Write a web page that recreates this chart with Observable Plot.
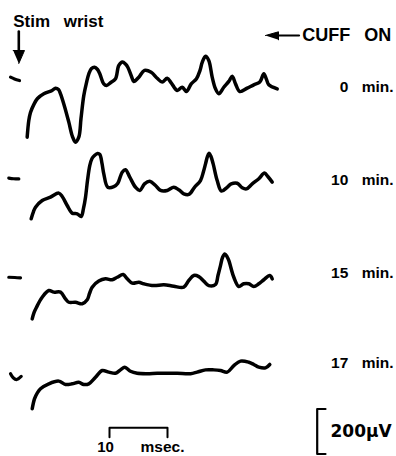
<!DOCTYPE html>
<html><head><meta charset="utf-8">
<script src="https://cdn.jsdelivr.net/npm/d3@7"></script>
<script src="https://cdn.jsdelivr.net/npm/@observablehq/plot@0.6"></script>
<style>html,body{margin:0;padding:0;background:#fff;}</style>
</head><body><div id="chart"></div>
<script>
// ---- data (time in ms after stimulus, amplitude in µV relative to each trace's baseline)
const traceLabels = ["0 min.", "10 min.", "15 min.", "17 min."];
const trace0min = [[2.53,-261],[2.81,-187],[3.10,-151],[3.67,-116],[4.31,-89],[5.40,-68],[6.84,-53],[7.41,-43],[7.93,-49],[8.28,-68],[8.97,-124],[9.71,-194],[10.34,-258],[10.86,-283],[11.43,-261],[11.81,-178],[12.29,-76],[12.76,-18],[13.16,21],[13.62,44],[14.14,50],[14.66,40],[15.05,21],[15.74,-24],[16.21,-31],[16.90,-19],[17.76,-1],[18.33,58],[18.97,73],[19.48,64],[19.88,50],[20.52,9],[20.91,-13],[21.78,6],[22.76,36],[23.91,28],[24.95,1],[25.81,-16],[26.67,1],[27.36,-19],[28.40,-53],[29.26,-39],[30.00,-58],[30.81,-24],[31.72,-1],[32.33,36],[32.71,72],[33.28,99],[33.84,80],[34.43,6],[35.00,-46],[35.57,-68],[36.43,-39],[37.29,-13],[37.88,10],[38.45,-24],[39.19,-58],[40.47,-43],[41.60,-28],[42.64,-16],[43.33,21],[43.79,-4],[44.19,-28],[45.64,-46]];
const trace10min = [[3.22,-179],[3.62,-147],[3.97,-128],[5.12,-98],[6.55,-83],[7.98,-65],[8.57,-80],[9.43,-120],[10.29,-154],[11.16,-157],[11.84,-169],[12.24,-133],[12.59,-83],[12.93,-9],[13.33,58],[13.71,89],[14.14,102],[14.66,111],[15.05,107],[15.43,67],[15.74,21],[16.43,-39],[17.47,-36],[18.16,-21],[18.91,28],[19.48,39],[20.22,6],[21.21,-39],[21.95,-53],[22.76,-24],[23.67,-12],[24.66,-31],[25.52,-53],[26.67,-53],[27.81,-39],[28.67,-50],[29.53,-68],[30.40,-71],[31.38,-39],[32.41,-9],[32.93,31],[33.28,65],[33.62,98],[33.91,112],[34.22,98],[34.60,65],[35.29,-9],[36.03,-56],[37.02,-39],[37.71,-24],[38.74,-21],[39.60,-41],[40.34,-46],[41.33,-24],[42.47,-1],[43.45,24],[44.02,9],[44.78,-16]];
const trace15min = [[3.40,-184],[3.71,-156],[4.14,-132],[5.12,-88],[6.26,-58],[7.12,-65],[8.28,-65],[9.14,-95],[9.71,-110],[10.86,-110],[12.02,-117],[12.88,-99],[13.28,-71],[13.74,-43],[14.88,-16],[16.03,-6],[17.19,-10],[18.05,1],[19.09,13],[19.78,-6],[20.64,-25],[21.78,-21],[22.64,-28],[24.36,-36],[26.09,-32],[27.81,-39],[29.53,-43],[30.40,-13],[31.26,9],[32.12,4],[32.98,-16],[33.84,-36],[35.00,-31],[35.43,9],[35.86,53],[36.21,89],[36.60,105],[36.98,93],[37.29,76],[38.16,1],[39.02,-40],[39.88,-28],[40.74,-28],[41.60,-40],[42.47,-28],[43.33,-10],[44.36,9],[44.78,-6]];
const trace17min = [[3.40,-148],[3.79,-104],[4.31,-76],[4.83,-59],[6.26,-37],[7.98,-25],[9.14,-40],[10.29,-37],[11.43,-30],[12.29,-40],[13.16,-37],[14.31,-8],[15.47,22],[16.60,15],[17.76,10],[18.62,25],[19.36,37],[20.34,19],[21.50,10],[23.22,8],[24.95,10],[26.67,10],[28.40,10],[30.69,8],[31.84,15],[33.28,25],[34.71,25],[35.86,22],[37.02,15],[38.16,44],[39.31,64],[40.74,59],[41.60,49],[42.47,37],[43.62,34],[44.36,49]];
const stimArtifacts = [
  [[-0.34,6],[0.34,-2],[1.21,-9]],
  [[-0.64,2],[0.2,-1],[1.09,-2]],
  [[-0.64,1],[0.4,0],[1.38,-2]],
  [[-0.34,8],[0.12,-10],[0.69,-18],[1.5,-4]]
];
const scaleTimeMs = 10;
const scaleVoltUv = 200;
const stimLabel = "Stim wrist";
const cuffLabel = "CUFF ON";

// ---- layout
const W = 396, H = 456;
const PX_PER_MS = 5.8, UV_PER_PX = 200 / 45;
const ms = px => (px - 12) / PX_PER_MS;   // horizontal page position -> ms
const uv = py => -py * UV_PER_PX;          // vertical page position -> µV
const rowBase = [78, 178, 277, 375];
const labelY = [86.7, 179.2, 272.5, 362.5];

const traces = [trace0min, trace10min, trace15min, trace17min];
const rows = traces.flatMap((tr, i) => tr.map(([t, v]) => ({row: i, t, y: uv(rowBase[i]) + v})));
const stimRows = stimArtifacts.flatMap((tr, i) => tr.map(([t, v]) => ({row: i, t, y: uv(rowBase[i]) + v})));

const tb0 = ms(109), tbY = uv(427.3), tick = 9.4 * UV_PER_PX;
const vbX = ms(316.7), vbTop = uv(408.5), vtick = ms(325);
const timeBar = [[tb0, tbY - tick], [tb0, tbY], [tb0 + scaleTimeMs, tbY], [tb0 + scaleTimeMs, tbY - tick]];
const voltBar = [[vtick, vbTop], [vbX, vbTop], [vbX, vbTop - scaleVoltUv], [vtick, vbTop - scaleVoltUv]];

const font = {fontFamily: "Liberation Sans, Arial, sans-serif", fontWeight: "bold", fill: "black"};

const chart = Plot.plot({
  width: W, height: H, margin: 0,
  style: "background:#fff; word-spacing:9px;",
  x: {domain: [ms(0), ms(W)], range: [0, W], axis: null},
  y: {domain: [uv(H), uv(0)], range: [H, 0], axis: null},
  marks: [
    Plot.line(rows, {x: "t", y: "y", z: "row", curve: "catmull-rom", stroke: "black", strokeWidth: 3.5, strokeLinecap: "round", strokeLinejoin: "round"}),
    Plot.line(stimRows, {x: "t", y: "y", z: "row", curve: "catmull-rom", stroke: "black", strokeWidth: 3.2, strokeLinecap: "round"}),
    Plot.text(traceLabels, {x: ms(393), y: (d, i) => uv(labelY[i]), text: d => d, textAnchor: "end", fontSize: 15.5, ...font}),
    // stimulus annotation
    Plot.text([stimLabel], {x: ms(12.7), y: uv(20.8), text: d => d, textAnchor: "start", fontSize: 17, ...font}),
    Plot.line([[ms(18.3), uv(31)], [ms(18.3), uv(52)]], {stroke: "black", strokeWidth: 2.6}),
    Plot.line([[ms(12.7), uv(50)], [ms(24), uv(50)], [ms(18.3), uv(63)]], {fill: "black", stroke: "black", strokeWidth: 1}),
    // cuff annotation
    Plot.line([[ms(276), uv(35)], [ms(298.5), uv(35)]], {stroke: "black", strokeWidth: 2.2}),
    Plot.line([[ms(265), uv(35)], [ms(278), uv(31.3)], [ms(278), uv(39.3)]], {fill: "black", stroke: "black", strokeWidth: 1}),
    Plot.text([cuffLabel], {x: ms(301.7), y: uv(35), text: d => d, textAnchor: "start", fontSize: 18, ...font}),
    // time calibration
    Plot.line(timeBar, {stroke: "black", strokeWidth: 2}),
    Plot.text([String(scaleTimeMs)], {x: ms(105), y: uv(447), text: d => d, textAnchor: "middle", fontSize: 15, ...font}),
    Plot.text(["msec."], {x: ms(140), y: uv(447), text: d => d, textAnchor: "start", fontSize: 15.5, ...font}),
    // voltage calibration
    Plot.line(voltBar, {stroke: "black", strokeWidth: 2.2}),
    Plot.text([scaleVoltUv + "µV"], {x: ms(330), y: uv(431), text: d => d, textAnchor: "start", fontSize: 17, fontFamily: "DejaVu Sans, sans-serif", fontWeight: "bold", fill: "black"})
  ]
});
document.getElementById("chart").appendChild(chart);
</script>
</body></html>
